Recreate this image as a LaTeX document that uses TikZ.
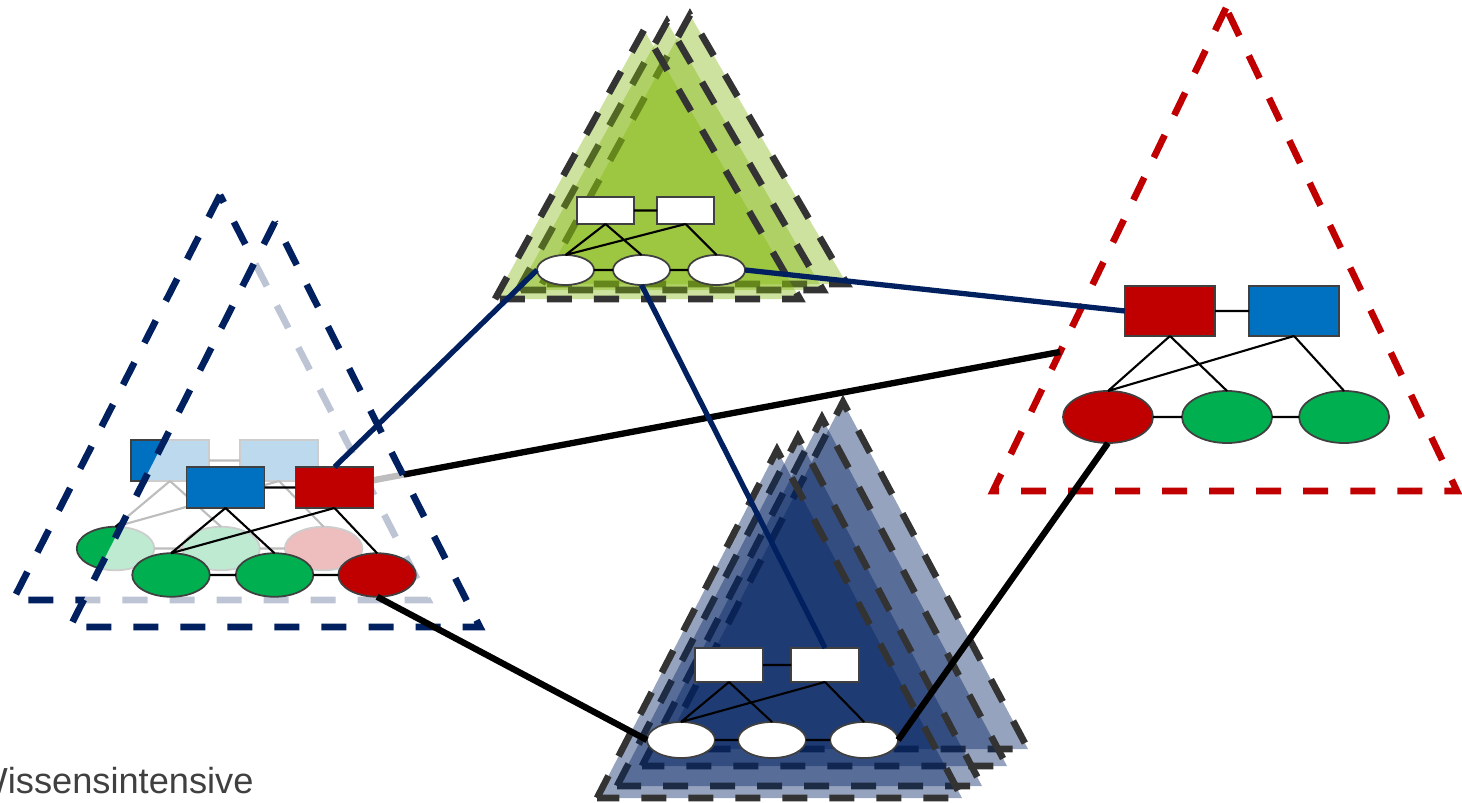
\documentclass[tikz,border=0pt]{standalone}
\usepackage{fontspec}
\setmainfont{Liberation Sans}
\usepackage{xcolor}
\usetikzlibrary{positioning, shapes.geometric, calc}
\definecolor{boxred}{HTML}{C00000}
\definecolor{boxblue}{HTML}{0070C0}
\definecolor{boxgreen}{HTML}{00B050}
\definecolor{deepnavy}{HTML}{002060}
\definecolor{edgegray}{HTML}{404040}
\definecolor{dashgray}{HTML}{333333}
\definecolor{leafgreen}{HTML}{82B60D}
\definecolor{textgray}{HTML}{404040}

\begin{document}
\begin{tikzpicture}[x=0.01cm, y=-0.01cm,
  tri/.style={line width=1.9pt, dash pattern=on 0.25cm off 0.22cm},
  box/.style={draw=edgegray, line width=0.5pt, rectangle, inner sep=0pt, outer sep=0pt},
  oval/.style={draw=edgegray, line width=0.5pt, ellipse, inner sep=0pt, outer sep=0pt},
  gbox/.style={box, fill=white, minimum width=0.57cm, minimum height=0.27cm},
  goval/.style={oval, fill=white, minimum width=0.57cm, minimum height=0.30cm},
  bbox/.style={box, fill=white, minimum width=0.68cm, minimum height=0.34cm},
  boval/.style={oval, fill=white, minimum width=0.68cm, minimum height=0.36cm},
  rbox/.style={box, minimum width=0.90cm, minimum height=0.50cm},
  roval/.style={oval, minimum width=0.90cm, minimum height=0.52cm},
  lbox/.style={box, minimum width=0.78cm, minimum height=0.41cm},
  loval/.style={oval, minimum width=0.775cm, minimum height=0.435cm},
  tie/.style={line width=0.6pt},
  link/.style={line width=1.8pt},
  navylink/.style={line width=1.5pt, draw=deepnavy}
]
\useasboundingbox (0,0) rectangle (1462,803);
\clip (0,0) rectangle (1462,803);

% right triangle
\coordinate (rt) at (1226,8);
\coordinate (rl) at (993,491);
\coordinate (rr) at (1457,491);
\draw[tri, draw=boxred] (rt) -- (rl) -- (rr) -- cycle;
\node[rbox, fill=boxred] (rq1) at (1170,311) {};
\node[rbox, fill=boxblue, right=0.34cm of rq1] (rq2) {};
\node[roval, fill=boxred] (re1) at (1108,417) {};
\node[roval, fill=boxgreen, right=0.29cm of re1] (re2) {};
\node[roval, fill=boxgreen, right=0.27cm of re2] (re3) {};
\draw[tie] (rq1) -- (rq2) (re1) -- (re2) (re2) -- (re3)
  (rq1.south) -- (re1.north) (rq1.south) -- (re2.north)
  (rq2.south) -- (re1.north) (rq2.south) -- (re3.north);

% left group, back triangle
\draw[tri, draw=deepnavy] (220,195) -- (13,600) -- (428,600) -- cycle;
\node[lbox, fill=boxblue] (la1) at (170,460.5) {};
\node[lbox, fill=boxblue, right=0.31cm of la1] (la2) {};
\node[loval, fill=boxgreen] (lae1) at (115.5,548.5) {};
\node[loval, fill=boxgreen, right=0.28cm of lae1] (lae2) {};
\node[loval, fill=boxred, right=0.25cm of lae2] (lae3) {};
\draw[tie] (la1) -- (la2) (lae1) -- (lae2) (lae2) -- (lae3)
  (la1.south) -- (lae1.north) (la1.south) -- (lae2.north)
  (la2.south) -- (lae1.north) (la2.south) -- (lae3.north);

% link behind the front veil
\coordinate (redge) at ($(rt)!0.712!(rl)$);
\coordinate (lbred) at (334.5,487.5);
\draw[link] (redge) -- (lbred);

% left group, front triangle
\filldraw[tri, draw=deepnavy, fill=white, fill opacity=0.74] (275,222) -- (70,627) -- (480,627) -- cycle;
\node[lbox, fill=boxblue] (lb1) at (225.5,487.5) {};
\node[lbox, fill=boxred] (lb2) at (lbred) {};
\node[loval, fill=boxgreen] (lbe1) at (171,575) {};
\node[loval, fill=boxgreen, right=0.26cm of lbe1] (lbe2) {};
\node[loval, fill=boxred, right=0.25cm of lbe2] (lbe3) {};
\draw[tie] (lb1) -- (lb2) (lbe1) -- (lbe2) (lbe2) -- (lbe3)
  (lb1.south) -- (lbe1.north) (lb1.south) -- (lbe2.north)
  (lb2.south) -- (lbe1.north) (lb2.south) -- (lbe3.north);

% green stack
\filldraw[tri, draw=dashgray, fill=leafgreen, fill opacity=0.4] (542,284) -- (690,15) -- (847,284) -- cycle;
\filldraw[tri, draw=dashgray, fill=leafgreen, fill opacity=0.4] (518,290) -- (667,22) -- (823,290) -- cycle;
\filldraw[tri, draw=dashgray, fill=leafgreen, fill opacity=0.4] (495,299) -- (644,30) -- (800,299) -- cycle;
\node[gbox] (gq1) at (605.5,210.5) {};
\node[gbox, right=0.23cm of gq1] (gq2) {};
\node[goval] (ge1) at (565.5,270) {};
\node[goval, right=0.19cm of ge1] (ge2) {};
\node[goval, right=0.18cm of ge2] (ge3) {};
\draw[tie] (gq1) -- (gq2) (ge1) -- (ge2) (ge2) -- (ge3)
  (gq1.south) -- (ge1.north) (gq1.south) -- (ge2.north)
  (gq2.south) -- (ge1.north) (gq2.south) -- (ge3.north);

% blue stack
\filldraw[tri, draw=dashgray, fill=deepnavy, fill opacity=0.41] (663,749) -- (843,402) -- (1028,749) -- cycle;
\filldraw[tri, draw=dashgray, fill=deepnavy, fill opacity=0.41] (642,766) -- (822,418) -- (1007,766) -- cycle;
\filldraw[tri, draw=dashgray, fill=deepnavy, fill opacity=0.41] (617,786) -- (798,437) -- (982,786) -- cycle;
\filldraw[tri, draw=dashgray, fill=deepnavy, fill opacity=0.41] (597,798) -- (777,450) -- (962,798) -- cycle;
\node[bbox] (bq1) at (729,665) {};
\node[bbox, right=0.28cm of bq1] (bq2) {};
\node[boval] (be1) at (681,740) {};
\node[boval, right=0.23cm of be1] (be2) {};
\node[boval, right=0.24cm of be2] (be3) {};
\draw[tie] (bq1) -- (bq2) (be1) -- (be2) (be2) -- (be3)
  (bq1.south) -- (be1.north) (bq1.south) -- (be2.north)
  (bq2.south) -- (be1.north) (bq2.south) -- (be3.north);

% links between the groups
\draw[navylink] (lb2.north) -- (ge1.west);
\draw[navylink] (ge2.south) -- (bq2.north);
\draw[navylink] (ge3.east) -- (rq1.west);
\draw[link] (lbe3.south) -- (be1.west);
\draw[link] (re1.south) -- (be3.east);

\node[anchor=base west, inner sep=0pt, font=\fontsize{10.3}{12}\selectfont, text=textgray] (caption) at (-27,793) {Wissensintensive};
\end{tikzpicture}
\end{document}
